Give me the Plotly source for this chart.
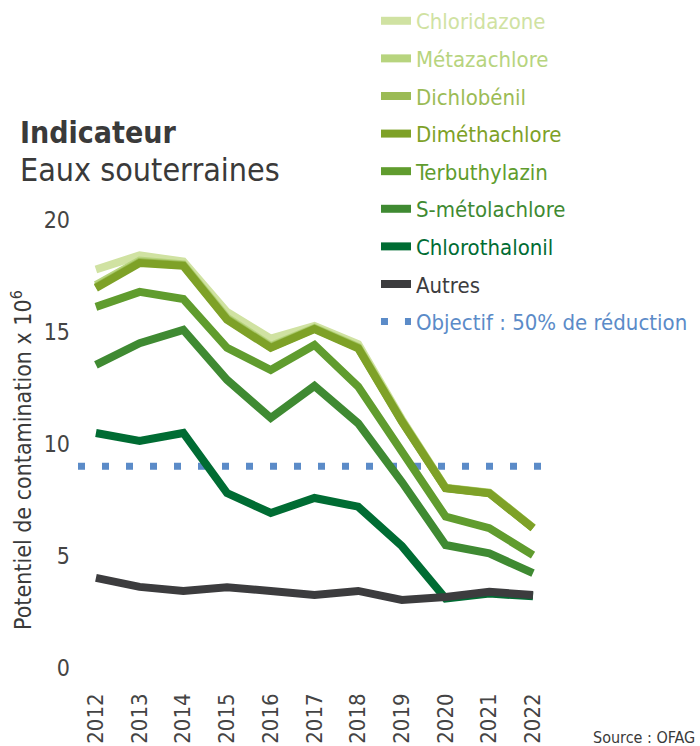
import plotly.graph_objects as go

# ---- data (levels, potentiel de contamination x 10^6) ----
years = [2012, 2013, 2014, 2015, 2016, 2017, 2018, 2019, 2020, 2021, 2022]

chloridazone   = [17.79, 18.42, 18.14, 15.89, 14.70, 15.27, 14.45, 11.10, 8.05, 7.83, 6.27]
metazachlore   = [17.10, 18.18, 18.02, 15.64, 14.38, 15.18, 14.33, 11.05, 8.04, 7.82, 6.26]
dichlobenil    = [17.00, 18.12, 17.98, 15.58, 14.32, 15.15, 14.30, 11.02, 8.03, 7.81, 6.25]
dimethachlore  = [16.96, 18.08, 17.95, 15.54, 14.29, 15.13, 14.27, 11.00, 8.02, 7.80, 6.24]
terbuthylazin  = [16.12, 16.79, 16.47, 14.29, 13.30, 14.42, 12.56, 9.62, 6.76, 6.24, 5.04]
s_metolachlore = [13.53, 14.50, 15.09, 12.86, 11.16, 12.59, 10.92, 8.30, 5.49, 5.12, 4.23]
chlorothalonil = [10.49, 10.13, 10.49, 7.81, 6.92, 7.59, 7.20, 5.44, 3.10, 3.32, 3.20]
autres         = [4.02, 3.62, 3.44, 3.60, 3.44, 3.26, 3.44, 3.04, 3.17, 3.40, 3.26]
objectif = 9.0

y_ticks = [0, 5, 10, 15, 20]

series = [
    ("Chloridazone", chloridazone, "#d0e2a2"),
    ("Métazachlore", metazachlore, "#b7d47e"),
    ("Dichlobénil", dichlobenil, "#9bbb55"),
    ("Diméthachlore", dimethachlore, "#7ea127"),
    ("Terbuthylazin", terbuthylazin, "#609c2e"),
    ("S-métolachlore", s_metolachlore, "#3f8a32"),
    ("Chlorothalonil", chlorothalonil, "#006c33"),
    ("Autres", autres, "#3c3c3e"),
]
obj_color = "#5b8bc8"

FONT = "Liberation Sans Narrow, DejaVu Sans Condensed, Noto Sans, sans-serif"

fig = go.Figure()
for i, (name, vals, col) in enumerate(series):
    fig.add_trace(go.Scatter(
        x=years, y=vals, mode="lines",
        name=f"<span style='color:{col}'>{name}</span>",
        line=dict(color=col, width=8),
        legendgroup=f"g{i}", legendrank=i + 1,
        hoverinfo="skip",
    ))

fig.add_shape(
    type="line", xref="x domain", yref="y",
    x0=0, x1=1, y0=objectif, y1=objectif,
    line=dict(color=obj_color, width=7, dash="7px,17px"),
    layer="below",
    showlegend=True, legendrank=9, legendgroup="g9",
    name=f"<span style='color:{obj_color}'>Objectif : 50% de réduction</span>",
)

fig.update_layout(
    width=700, height=746,
    margin=dict(l=78, r=146, t=200, b=66, autoexpand=False),
    paper_bgcolor="white", plot_bgcolor="white",
    font=dict(family=FONT, color="#444444"),
    showlegend=True,
    legend=dict(
        x=0.626, y=1.4167, xanchor="left", yanchor="top",
        font=dict(size=22, family=FONT),
        traceorder="grouped", tracegroupgap=6,
        itemwidth=30, bgcolor="rgba(0,0,0,0)",
    ),
    xaxis=dict(
        range=[2011.59, 2022.48], automargin=False,
        tickmode="array", tickvals=years, ticktext=[str(y) for y in years],
        tickangle=-90, showgrid=False, zeroline=False, showline=False,
        ticks="", ticklabelstandoff=8,
        tickfont=dict(size=22, color="#444444", family=FONT),
    ),
    yaxis=dict(
        range=[-0.536, 20.89], automargin=False,
        tickmode="array", tickvals=y_ticks,
        showgrid=False, zeroline=False, showline=False,
        ticks="", ticklabelstandoff=7,
        tickfont=dict(size=23, color="#444444", family=FONT),
    ),
    annotations=[
        dict(text="<b>Indicateur</b>", xref="paper", yref="paper",
             x=-0.126, y=1.1396, xanchor="left", yanchor="middle",
             showarrow=False, font=dict(size=30, color="#3a3a3a", family=FONT)),
        dict(text="Eaux souterraines", xref="paper", yref="paper",
             x=-0.126, y=1.0625, xanchor="left", yanchor="middle",
             showarrow=False, font=dict(size=32, color="#3a3a3a", family=FONT)),
        dict(text="Potentiel de contamination x 10<sup>6</sup>", xref="paper", yref="paper",
             x=-0.118, y=0.458, xanchor="center", yanchor="middle", textangle=-90,
             showarrow=False, font=dict(size=23, color="#3a3a3a", family=FONT)),
        dict(text="Source : OFAG", xref="paper", yref="paper",
             x=1.3004, y=-0.11875, xanchor="right", yanchor="middle",
             showarrow=False, font=dict(size=16, color="#3a3a3a", family=FONT)),
    ],
)

fig.write_html(
    "out.html",
    config={"displayModeBar": False},
    post_script="document.body.style.margin='0';document.body.style.overflow='hidden';",
)
